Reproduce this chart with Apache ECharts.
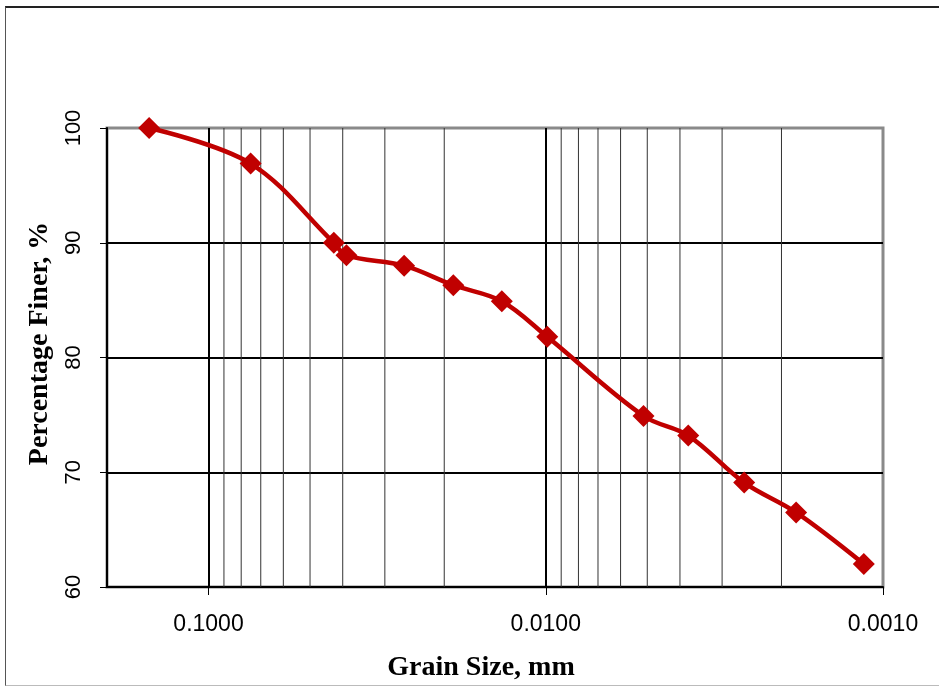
<!DOCTYPE html>
<html>
<head>
<meta charset="utf-8">
<script src="https://cdn.jsdelivr.net/npm/echarts@6/dist/echarts.min.js"></script>
<style>
  html, body { margin: 0; padding: 0; background: #fff; }
  #wrap { position: relative; width: 939px; height: 688px; overflow: hidden; }
  #frame {
    position: absolute; left: 5px; top: 6px; width: 960px; height: 680px;
    border-top: 2px solid #222; border-left: 1px solid #555; border-bottom: 1px solid #bbb;
    box-sizing: border-box;
  }
  #chart { position: absolute; left: 0; top: 0; width: 939px; height: 688px; }
</style>
</head>
<body>
<div id="wrap">
  <div id="frame"></div>
  <div id="chart"></div>
</div>
<script>
// Particle-size distribution (hydrometer / sieve results)
const grainSizeMm = [0.15, 0.075, 0.0425, 0.039, 0.0263, 0.0188, 0.0135, 0.0099,
                     0.00513, 0.00378, 0.00258, 0.00181, 0.00114];
const percentFiner = [100, 96.9, 90.0, 88.9, 88.0, 86.3, 84.9, 81.8,
                      74.9, 73.2, 69.1, 66.5, 62.0];

// Axis ranges
const xMin = 0.001, xMax = 0.2;
const yMin = 60, yMax = 100, yStep = 10;

// Intermediate log-cycle grid lines (2..9 within each decade)
const minorGridSizes = [0.09, 0.08, 0.07, 0.06, 0.05, 0.04, 0.03, 0.02,
                        0.009, 0.008, 0.007, 0.006, 0.005, 0.004, 0.003, 0.002];

const xTitle = 'Grain Size, mm';
const yTitle = 'Percentage Finer, %';

const sans = '"Liberation Sans", Arial, sans-serif';
const serif = '"Liberation Serif", "Times New Roman", serif';
const red = '#C00000';

const chart = echarts.init(document.getElementById('chart'), null, { renderer: 'canvas' });

chart.setOption({
  animation: false,
  backgroundColor: 'transparent',
  grid: {
    left: 107, right: 56, top: 128, bottom: 101,
    show: true, borderColor: '#8a8a8a', borderWidth: 3, backgroundColor: 'transparent'
  },
  xAxis: {
    type: 'log',
    logBase: 10,
    min: xMin,
    max: xMax,
    inverse: true,
    name: xTitle,
    nameLocation: 'middle',
    nameGap: 67,
    nameTextStyle: {
      fontFamily: serif, fontWeight: 'bold', fontSize: 28, color: '#000',
      padding: [0, 28, 0, 0]
    },
    axisLine: { show: true, onZero: false, lineStyle: { color: '#000', width: 2 } },
    axisTick: { show: true, inside: false, length: 8, lineStyle: { color: '#000', width: 1 } },
    axisLabel: {
      fontFamily: sans, fontSize: 23, color: '#000', margin: 26,
      showMaxLabel: false,
      formatter: v => Number(v).toFixed(4)
    },
    splitLine: {
      show: true, showMinLine: false, showMaxLine: false,
      lineStyle: { color: '#000', width: 2 }
    },
    minorTick: { show: false },
    minorSplitLine: { show: false }
  },
  yAxis: {
    type: 'value',
    min: yMin,
    max: yMax,
    interval: yStep,
    name: yTitle,
    nameLocation: 'middle',
    nameGap: 53,
    nameRotate: 90,
    nameTextStyle: {
      fontFamily: serif, fontWeight: 'bold', fontSize: 28, color: '#000',
      padding: [0, 0, 0, 28]
    },
    axisLine: { show: true, onZero: false, lineStyle: { color: '#000', width: 2 } },
    axisTick: { show: true, inside: false, length: 7, lineStyle: { color: '#000', width: 1 } },
    axisLabel: {
      fontFamily: sans, fontSize: 22, color: '#000', margin: 22, rotate: 90
    },
    splitLine: {
      show: true, showMinLine: false, showMaxLine: false,
      lineStyle: { color: '#000', width: 2 }
    }
  },
  series: [
    {
      // thin vertical lines for the 2..9 subdivisions of each log cycle
      type: 'custom',
      z: 1,
      silent: true,
      data: minorGridSizes.map(v => [v]),
      encode: { x: 0 },
      clip: true,
      renderItem: function (params, api) {
        const v = api.value(0);
        const p0 = api.coord([v, yMin]);
        const p1 = api.coord([v, yMax]);
        return {
          type: 'line',
          shape: { x1: p0[0], y1: p0[1], x2: p1[0], y2: p1[1] },
          style: { stroke: '#333', lineWidth: 1 }
        };
      }
    },
    {
      type: 'line',
      z: 5,
      data: grainSizeMm.map((d, i) => [d, percentFiner[i]]),
      smooth: 0.35,
      symbol: 'diamond',
      symbolSize: 22,
      showAllSymbol: true,
      lineStyle: { color: red, width: 4.5 },
      itemStyle: { color: red, borderColor: red, borderWidth: 0 },
      emphasis: { disabled: true }
    }
  ]
});
</script>
</body>
</html>
